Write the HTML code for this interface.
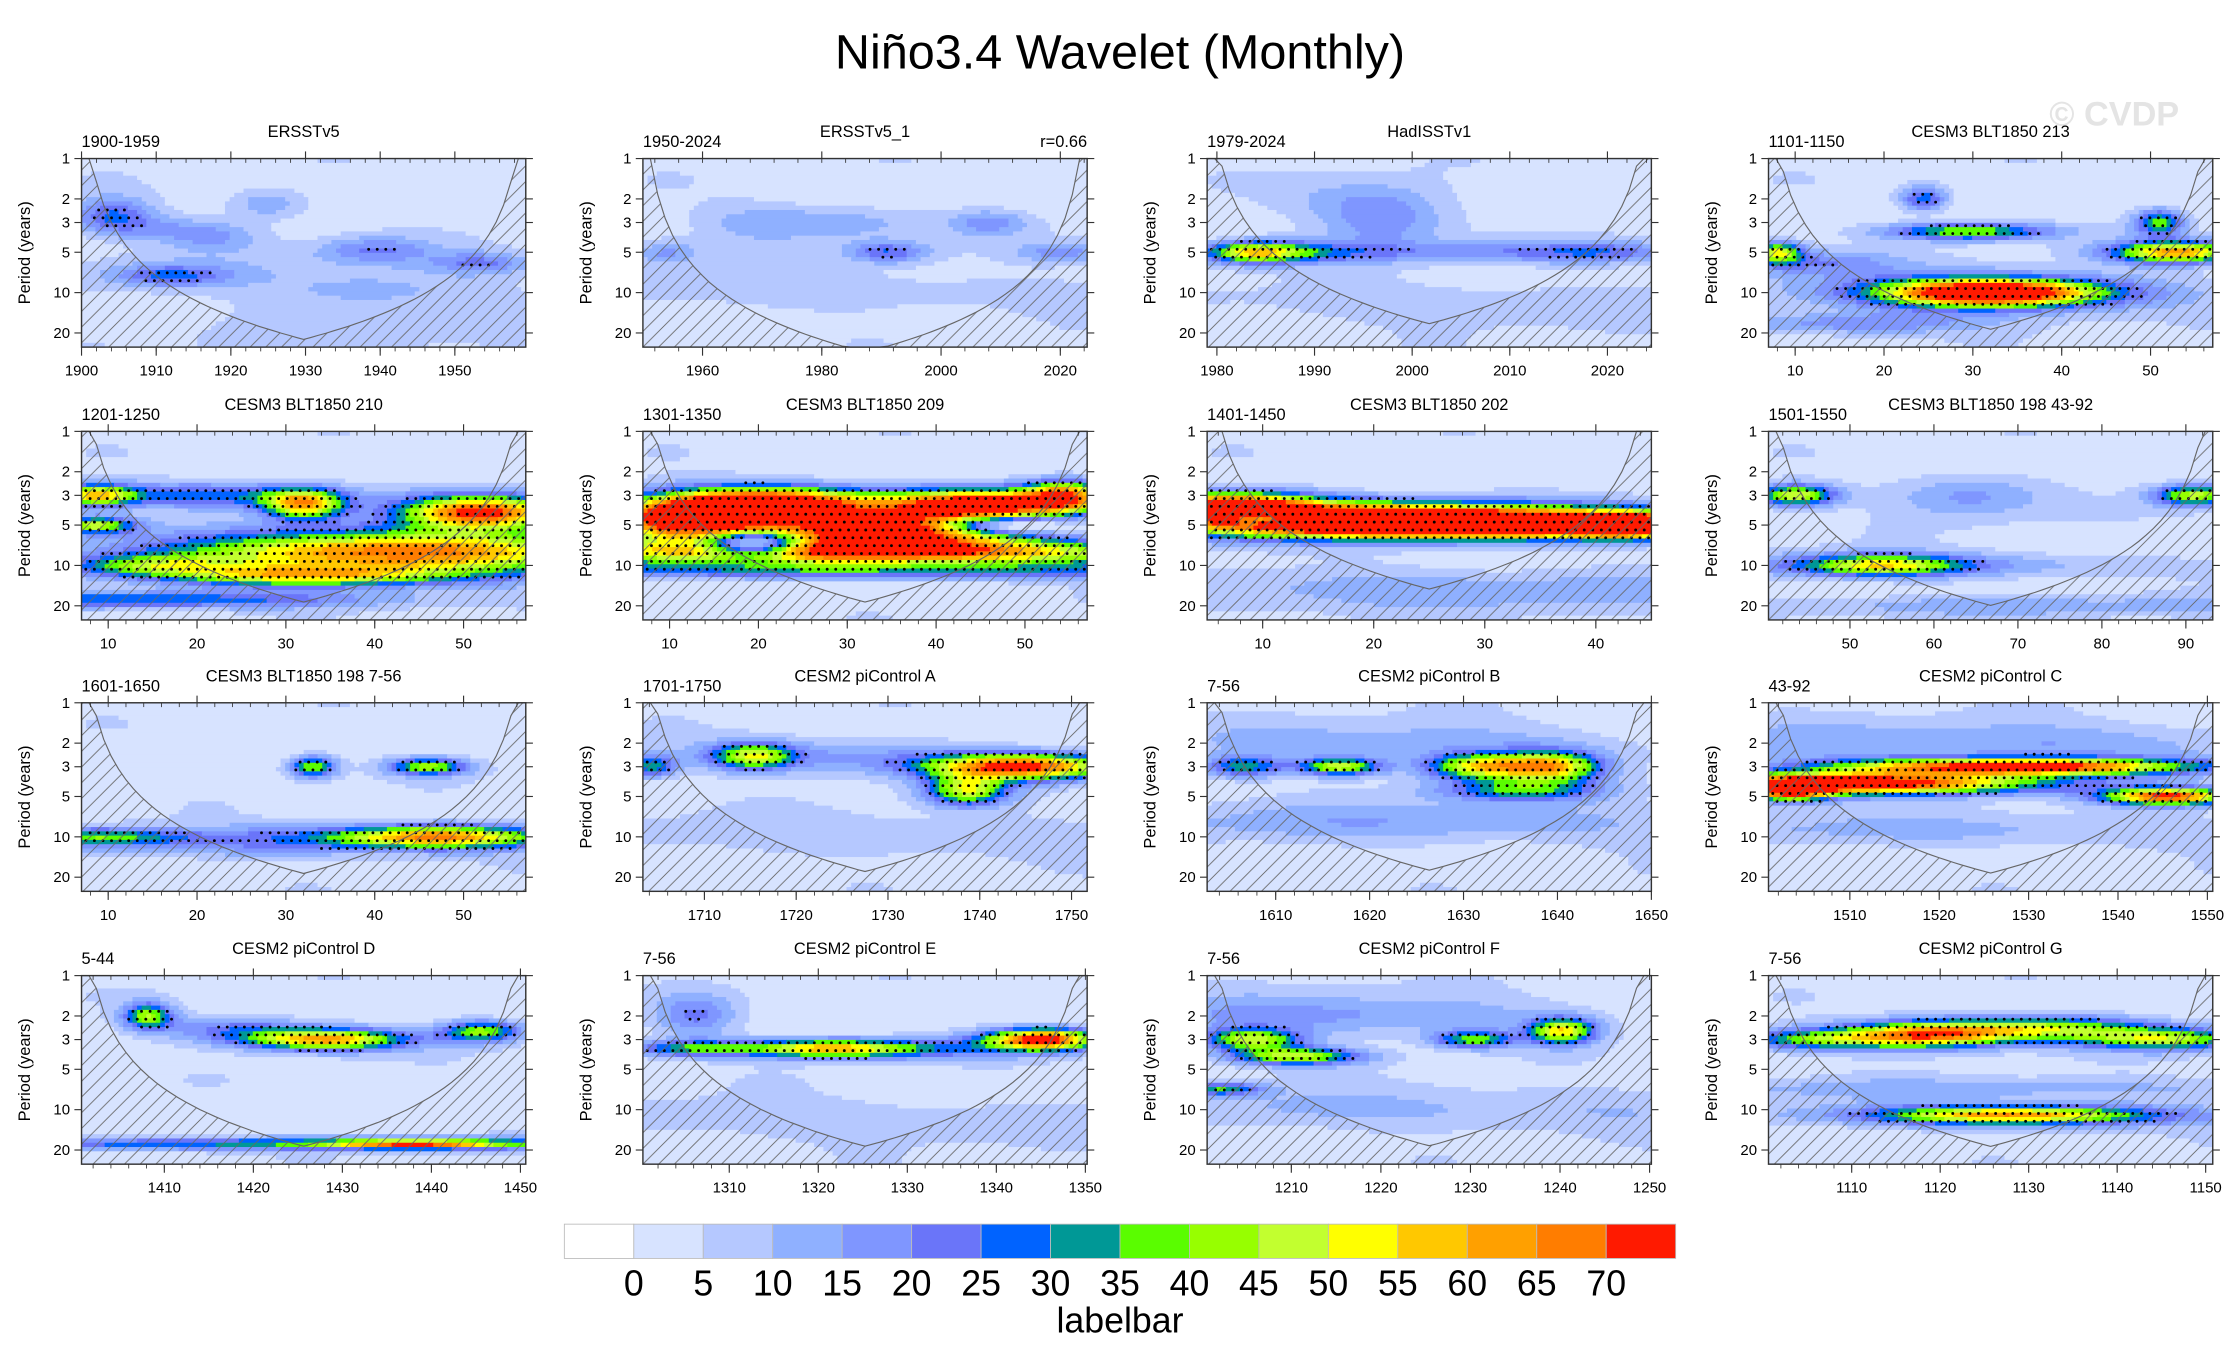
<!DOCTYPE html>
<html><head><meta charset="utf-8"><style>
html,body{margin:0;padding:0;background:#fff;}
svg{display:block;font-family:"Liberation Sans",sans-serif;}
</style></head><body>
<svg id="chart" width="2240" height="1367" viewBox="0 0 1568 957" xmlns="http://www.w3.org/2000/svg">
<defs>
<pattern id="hatch" patternUnits="userSpaceOnUse" width="11" height="11">
<path d="M-1,12 L12,-1 M-6,6 L6,-6 M5,17 L17,5" stroke="#666" stroke-width="0.6"/>
</pattern>
</defs>
<text x="784" y="48" text-anchor="middle" font-size="34">Niño3.4 Wavelet (Monthly)</text>
<text x="1480" y="88" text-anchor="middle" font-size="24" font-weight="bold" fill="#e4e4e4">© CVDP</text>
<g id="panels"></g>
<g id="labelbar"></g>
</svg>
<script>
const NS="http://www.w3.org/2000/svg";
const levelColors=["#ffffff","#d7e3ff","#b5c8ff","#8fb0ff","#7f96ff","#6a75f9","#0063ff","#009896","#5afd00","#97ff00","#c2ff2f","#ffff00","#ffc800","#ffa000","#ff7d00","#ff1a00"];
const levelLabels=["0","5","10","15","20","25","30","35","40","45","50","55","60","65","70"];
const panelTitles=["ERSSTv5","ERSSTv5_1","HadISSTv1","CESM3 BLT1850 213","CESM3 BLT1850 210","CESM3 BLT1850 209","CESM3 BLT1850 202","CESM3 BLT1850 198 43-92","CESM3 BLT1850 198 7-56","CESM2 piControl A","CESM2 piControl B","CESM2 piControl C","CESM2 piControl D","CESM2 piControl E","CESM2 piControl F","CESM2 piControl G"];
const panelRanges=["1900-1959","1950-2024","1979-2024","1101-1150","1201-1250","1301-1350","1401-1450","1501-1550","1601-1650","1701-1750","7-56","43-92","5-44","7-56","7-56","7-56"];
const panelDomains=[[1900,1959.5],[1950,2024.5],[1979,2024.5],[7,57],[7,57],[7,57],[5,45],[40.3,93.2],[7,57],[1703.3,1751.7],[1602.7,1650],[1500.9,1550.6],[1400.7,1450.6],[1300.3,1350.2],[1200.6,1250.2],[1100.6,1150.8]];
const panelXTicks=[[1900,1910,1920,1930,1940,1950],[1960,1980,2000,2020],[1980,1990,2000,2010,2020],[10,20,30,40,50],[10,20,30,40,50],[10,20,30,40,50],[10,20,30,40],[50,60,70,80,90],[10,20,30,40,50],[1710,1720,1730,1740,1750],[1610,1620,1630,1640,1650],[1510,1520,1530,1540,1550],[1410,1420,1430,1440,1450],[1310,1320,1330,1340,1350],[1210,1220,1230,1240,1250],[1110,1120,1130,1140,1150]];
const periodTicks=[1,2,3,5,10,20];
// blobs: [x-fraction, period(years), amplitude, x-width, log-period width]
const blobs0=[[0.07,2.6,22,0.05,0.08],[0.18,3.3,12,0.1,0.06],[0.3,4,10,0.06,0.06],[0.42,2.2,14,0.05,0.07],[0.2,7.5,20,0.07,0.05],[0.66,4.8,16,0.07,0.06],[0.9,6,16,0.06,0.05],[0.5,7,5,0.4,0.1],[0.65,10,9,0.12,0.08],[0.5,18,4,0.5,0.15]];
const blobs1=[[0.05,5,14,0.04,0.06],[0.55,5,22,0.05,0.05],[0.45,3,12,0.1,0.08],[0.78,3,14,0.05,0.06],[0.95,5,15,0.06,0.05],[0.5,10,7,0.4,0.1],[0.25,3,9,0.08,0.1]];
const blobs2=[[0.1,5,40,0.06,0.05],[0.2,5,22,0.1,0.05],[0.4,3,16,0.08,0.12],[0.6,5,14,0.15,0.05],[0.9,5,18,0.1,0.05],[0.6,12,8,0.4,0.1],[0.35,2,10,0.1,0.1]];
const blobs3=[[0.5,10,72,0.12,0.06],[0.5,10,30,0.22,0.09],[0.02,5,45,0.03,0.05],[0.92,5,60,0.08,0.05],[0.88,3,35,0.03,0.06],[0.35,2,28,0.03,0.06],[0.45,3.5,40,0.1,0.04],[0.1,6,16,0.1,0.06],[0.2,17,18,0.15,0.05]];
const blobs4=[[0.72,8,68,0.28,0.1],[0.5,12,45,0.18,0.05],[0.03,3,50,0.05,0.05],[0.03,5,45,0.05,0.04],[0.5,3.5,55,0.05,0.07],[0.9,4,70,0.1,0.08],[0.3,3,28,0.15,0.06],[0.1,18,30,0.3,0.04],[0.15,10,30,0.1,0.05]];
const blobs5=[[0.1,4.5,85,0.1,0.1],[0.3,3.5,85,0.12,0.08],[0.55,5.5,80,0.15,0.08],[0.75,3.5,80,0.12,0.07],[0.5,8,70,0.4,0.06],[0.95,3,55,0.05,0.07],[0.25,7,-60,0.06,0.06],[0.8,5,-40,0.08,0.04],[0.5,11,25,0.5,0.04]];
const blobs6=[[0.3,4.5,85,0.3,0.08],[0.7,5,80,0.25,0.06],[0.95,5,50,0.06,0.06],[0.05,3.5,60,0.1,0.06],[0.13,4.5,-40,0.05,0.03],[0.5,15,12,0.5,0.1]];
const blobs7=[[0.06,3,50,0.05,0.05],[0.96,3,45,0.05,0.05],[0.25,10,40,0.1,0.05],[0.35,10,15,0.3,0.06],[0.45,3,16,0.1,0.1],[0.5,20,10,0.5,0.05]];
const blobs8=[[0.8,10,45,0.12,0.05],[0.7,10,20,0.3,0.06],[0.03,10,30,0.1,0.04],[0.52,3,40,0.03,0.05],[0.78,3,40,0.05,0.04],[0.3,12,10,0.3,0.06]];
const blobs9=[[0.02,3,30,0.03,0.05],[0.25,2.5,40,0.05,0.06],[0.85,3,70,0.12,0.06],[0.73,4.5,45,0.05,0.07],[0.4,2.5,15,0.2,0.08],[0.6,10,8,0.4,0.1]];
const blobs10=[[0.08,3,30,0.05,0.05],[0.3,3,45,0.05,0.04],[0.62,3,50,0.07,0.06],[0.78,3,50,0.06,0.07],[0.7,4.5,30,0.1,0.05],[0.5,8,12,0.4,0.1],[0.45,2,12,0.3,0.1]];
const blobs11=[[0.2,4,80,0.22,0.05],[0.55,3,75,0.22,0.04],[0.9,5,70,0.08,0.04],[0.05,4.5,60,0.05,0.05],[0.5,9,10,0.5,0.08],[0.5,2,14,0.4,0.1]];
const blobs12=[[0.55,3,60,0.1,0.05],[0.15,2,40,0.03,0.06],[0.9,2.6,40,0.05,0.05],[0.35,2.5,20,0.1,0.06],[0.5,18,30,0.6,0.03],[0.75,18,45,0.1,0.02]];
const blobs13=[[0.9,3,75,0.07,0.05],[0.4,3.5,40,0.1,0.04],[0.1,3.5,30,0.08,0.04],[0.55,3.5,25,0.15,0.05],[0.12,2,18,0.05,0.1],[0.5,12,8,0.5,0.1]];
const blobs14=[[0.1,3,45,0.06,0.05],[0.2,4,45,0.08,0.04],[0.6,3,35,0.05,0.04],[0.8,2.6,50,0.04,0.06],[0.03,7,30,0.05,0.03],[0.3,2,15,0.3,0.1],[0.5,10,10,0.5,0.1]];
const blobs15=[[0.35,2.8,55,0.1,0.06],[0.6,2.5,45,0.15,0.06],[0.1,3,35,0.1,0.05],[0.9,3,40,0.1,0.05],[0.55,11,45,0.15,0.04],[0.55,11,20,0.3,0.06],[0.5,7,10,0.5,0.05]];
const panelBlobs=[blobs0,blobs1,blobs2,blobs3,blobs4,blobs5,blobs6,blobs7,blobs8,blobs9,blobs10,blobs11,blobs12,blobs13,blobs14,blobs15];
const baseValue=2.2;
const sigThreshold=20;
const WX=1.8, WP=1.6;

const colX=[57,450,845,1238], rowY=[111,302,492,683], PW=311, PH=132, PMAX=25.5;
function el(tag,attrs,parent){const e=document.createElementNS(NS,tag);for(const k in attrs)e.setAttribute(k,attrs[k]);if(parent)parent.appendChild(e);return e;}
function colorIdx(v){return v<0?0:Math.min(15,Math.floor(v/5)+1);}
function field(b,u,p){const lp=Math.log10(p);let v=baseValue+1.8*Math.sin(lp*9+u*3)+1.2*Math.cos(u*11-lp*4);for(const q of b){const du=(u-q[0])/(q[3]*WX),dl=(lp-Math.log10(q[1]))/(q[4]*WP);v+=q[2]*Math.exp(-du*du-dl*dl);}return v;}
const root=document.getElementById('panels');
panelTitles.forEach((title,i)=>{
  const x0=colX[i%4], y0=rowY[Math.floor(i/4)];
  const dom=panelDomains[i];
  const xs=t=>x0+(t-dom[0])/(dom[1]-dom[0])*PW;
  const ys=p=>y0+Math.log10(p)/Math.log10(PMAX)*PH;
  const g=el('g',{},root);
  
  
  const b=panelBlobs[i];
  const NX=96,NY=44,cw=PW/NX,ch=PH/NY;
  const cells=el('g',{},g);
  
  
  for(let r=0;r<NY;r++){
    const p=Math.pow(PMAX,(r+0.5)/NY);
    let run=-1,start=0;
    for(let c=0;c<=NX;c++){
      const idx=c<NX?Math.max(1,colorIdx(field(b,(c+0.5)/NX,p))):-2;
      if(idx!==run){
        if(run>=0){const rc=el('rect',{x:x0+start*cw,y:y0+r*ch,width:(c-start)*cw+0.4,height:ch+0.4,fill:levelColors[run]},cells);
          
          }
        run=idx;start=c;
      }
    }
  }
  const dots=el('g',{fill:'#000'},g);
  
  
  for(let yy=y0+3;yy<y0+PH*0.8;yy+=5.5){
    const p=Math.pow(PMAX,(yy-y0)/PH);
    const off=(Math.round((yy-y0)/5.5)%2)*3;
    for(let xx=x0+3+off;xx<x0+PW;xx+=6){
      if(field(b,(xx-x0)/PW,p)>sigThreshold) el('circle',{cx:xx,cy:yy,r:1},dots);
    }
  }
  const D=dom[1]-dom[0], k=0.75;
  let pts=[];
  for(let s=0;s<=60;s++){const u=s/60;const per=Math.max(1,k*D*Math.min(u,1-u));pts.push([x0+u*PW,Math.min(y0+PH,ys(Math.min(per,PMAX)))]);}
  const poly=pts.map(q=>q[0].toFixed(1)+','+q[1].toFixed(1)).join(' ');
  el('polygon',{points:x0+','+(y0+PH)+' '+poly+' '+(x0+PW)+','+(y0+PH),fill:'url(#hatch)'},g);
  const coi=el('polyline',{points:poly,fill:'none',stroke:'#666','stroke-width':0.8},g);
  
  
  el('rect',{x:x0,y:y0,width:PW,height:PH,fill:'none',stroke:'#333','stroke-width':1},g);
  periodTicks.forEach(p=>{
    const y=ys(p);
    el('line',{x1:x0-5,x2:x0,y1:y,y2:y,stroke:'#333','stroke-width':0.8},g);
    el('line',{x1:x0+PW,x2:x0+PW+5,y1:y,y2:y,stroke:'#333','stroke-width':0.8},g);
    const t=el('text',{x:x0-8,y:y+3.5,'text-anchor':'end','font-size':10.5},g);t.textContent=p;
    
    
  });
  const yt=el('text',{transform:`translate(${x0-36},${y0+PH/2}) rotate(-90)`,'text-anchor':'middle','font-size':11.5},g);
  yt.textContent='Period (years)';
  
  
  const step=panelXTicks[i][1]-panelXTicks[i][0];
  for(let t=Math.ceil(dom[0]/(step/5))*(step/5);t<=dom[1];t+=step/5){
    const x=xs(t);
    el('line',{x1:x,x2:x,y1:y0+PH,y2:y0+PH+3,stroke:'#333','stroke-width':0.6},g);
    el('line',{x1:x,x2:x,y1:y0,y2:y0+3,stroke:'#333','stroke-width':0.6},g);
  }
  panelXTicks[i].forEach(t=>{
    const x=xs(t);
    el('line',{x1:x,x2:x,y1:y0+PH,y2:y0+PH+6,stroke:'#333','stroke-width':0.8},g);
    el('line',{x1:x,x2:x,y1:y0-5,y2:y0,stroke:'#333','stroke-width':0.8},g);
    const tx=el('text',{x:x,y:y0+PH+20,'text-anchor':'middle','font-size':10.5},g);tx.textContent=t;
    
    
  });
  const tt=el('text',{x:x0+PW/2,y:y0-15,'text-anchor':'middle','font-size':11.5},g);tt.textContent=title;
  
  
  const rl=el('text',{x:x0,y:y0-8,'font-size':11.5},g);rl.textContent=panelRanges[i];
  
  
  if(i===1){const rr=el('text',{x:x0+PW,y:y0-8,'text-anchor':'end','font-size':11.5},g);rr.textContent='r=0.66';
    
    }
});
const lb=document.getElementById('labelbar');
const LX=395,LW=778/16,LY=857,LH=24;
levelColors.forEach((c,j)=>{
  const r=el('rect',{x:LX+j*LW,y:LY,width:LW,height:LH,fill:c,stroke:'#bbb','stroke-width':0.6},lb);
  
  
});
levelLabels.forEach((s,j)=>{
  const t=el('text',{x:LX+(j+1)*LW,y:LY+LH+26,'text-anchor':'middle','font-size':25},lb);t.textContent=s;
  
  
});
const lt=el('text',{x:784,y:933,'text-anchor':'middle','font-size':25},lb);lt.textContent='labelbar';


</script>
</body></html>
